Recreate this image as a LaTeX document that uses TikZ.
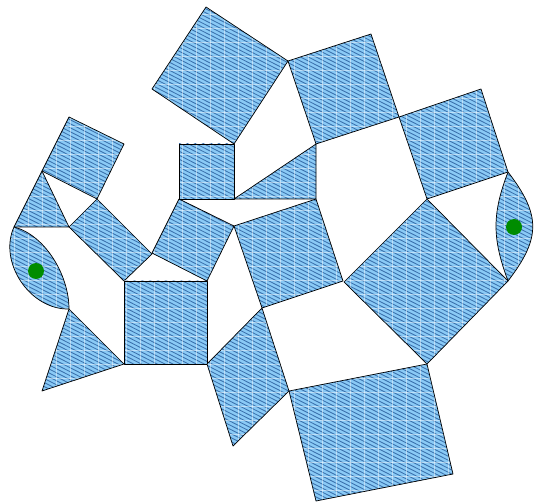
\documentclass[tikz,border=0pt]{standalone}
\definecolor{skyfill}{RGB}{138,202,246}
\definecolor{hatchblue}{RGB}{58,112,172}
\definecolor{dotgreen}{RGB}{0,140,0}
\tikzset{
  tile/.style={
    fill=skyfill,
    path picture={
      \foreach \k in {-70,...,126} {
        \draw[hatchblue, line width=0.85pt] (0,4*\k) -- (540,4*\k+275);
      }
      \foreach \k in {0,...,38} {
        \draw[white, opacity=0.45, line width=0.5pt] (14*\k,0) -- (14*\k,505);
        \draw[white, opacity=0.45, line width=0.5pt] (0,14*\k) -- (540,14*\k);
      }
    },
    draw=black, line width=0.7pt, line join=round},
  marker/.style={fill=dotgreen, draw=none}
}
\begin{document}
\begin{tikzpicture}[x=1pt,y=-1pt]
\useasboundingbox (0,0) rectangle (535,502);
% left group
\path[tile] (69,117) -- (124,144) -- (97,199) -- (42,171) -- cycle;
\path[tile] (42,171) -- (14,227) -- (69,227) -- cycle;
\path[tile] (97,199) -- (152,254) -- (124,281) -- (69,227) -- cycle;
\path[tile] (14,227) .. controls (45,235) and (69,275) .. (69,309)
            .. controls (30,310) and (-2,262) .. (14,227) -- cycle;
\path[tile] (69,309) -- (124,364) -- (42,391) -- cycle;
\path[tile] (124,281) rectangle (207,364);
% middle group
\path[tile] (179,199) -- (234,226) -- (207,281) -- (152,253) -- cycle;
\path[tile] (179,144) rectangle (234,199);
\path[tile] (206,7) -- (288,61) -- (234,144) -- (152,89) -- cycle;
\path[tile] (234,199) -- (316,144) -- (316,199) -- cycle;
\path[tile] (288,61) -- (371,34) -- (399,117) -- (316,144) -- cycle;
\path[tile] (399,117) -- (481,89) -- (508,172) -- (427,199) -- cycle;
% right lens
\path[tile] (508,172) .. controls (541,215) and (541,238) .. (508,281)
            .. controls (492,238) and (492,214) .. (508,172) -- cycle;
\path[tile] (427,199) -- (508,281) -- (427,364) -- (344,282) -- cycle;
\path[tile] (234,226) -- (316,199) -- (343,281) -- (262,308) -- cycle;
\path[tile] (207,364) -- (262,308) -- (289,391) -- (233,446) -- cycle;
\path[tile] (289,391) -- (427,364) -- (453,474) -- (316,501) -- cycle;
% dots
\node[marker, circle, minimum size=16pt, inner sep=0pt] (dotL) at (36,271) {};
\node[marker, circle, minimum size=16pt, inner sep=0pt] (dotR) at (514,227) {};
\end{tikzpicture}
\end{document}
